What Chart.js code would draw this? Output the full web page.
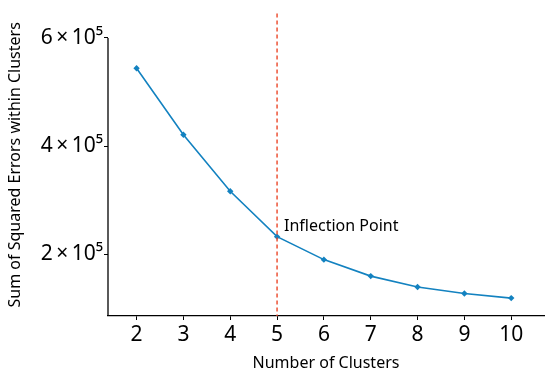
<!DOCTYPE html>
<html>
<head>
<meta charset="utf-8">
<script src="https://cdn.jsdelivr.net/npm/chart.js@4"></script>
<style>
  html, body { margin: 0; padding: 0; background: #fff; }
  #wrap { width: 550px; height: 378px; }
</style>
</head>
<body>
<div id="wrap"><canvas id="elbowChart"></canvas></div>
<script>
// data
const clusters = [2, 3, 4, 5, 6, 7, 8, 9, 10];
const sse = [543800, 420800, 316200, 232300, 189800, 159300, 139200, 127000, 118600];
const yTickValues = [200000, 400000, 600000];
const yTickLabels = ['2\u2009×\u200910⁵', '4\u2009×\u200910⁵', '6\u2009×\u200910⁵'];
const xTickValues = [2, 3, 4, 5, 6, 7, 8, 9, 10];
const inflectionK = 5;
const inflectionLabel = 'Inflection Point';

const FONT = "'Noto Sans', 'Open Sans', sans-serif";
const LINE_COLOR = '#1382c0';

// dashed marker, y axis line (only up to the top tick) and the label
const extras = {
    id: 'extras',
    afterDraw(chart) {
        const { ctx, chartArea, scales } = chart;
        const x = scales.x.getPixelForValue(inflectionK);
        ctx.save();
        ctx.strokeStyle = 'rgb(235, 70, 40)';
        ctx.lineWidth = 1.4;
        ctx.setLineDash([4, 3]);
        ctx.beginPath();
        ctx.moveTo(x, chartArea.top);
        ctx.lineTo(x, chartArea.bottom);
        ctx.stroke();
        ctx.restore();

        const yTop = scales.y.getPixelForValue(yTickValues[yTickValues.length - 1]);
        ctx.save();
        ctx.strokeStyle = '#000';
        ctx.lineWidth = 1.3;
        ctx.beginPath();
        ctx.moveTo(chartArea.left, yTop);
        ctx.lineTo(chartArea.left, chartArea.bottom);
        ctx.stroke();

        const i = clusters.indexOf(inflectionK);
        const py = scales.y.getPixelForValue(sse[i]);
        ctx.fillStyle = '#000';
        ctx.font = '16px ' + FONT;
        ctx.textAlign = 'left';
        ctx.textBaseline = 'middle';
        ctx.fillText(inflectionLabel, x + 7, py - 10);
        ctx.restore();
    }
};

const ctx = document.getElementById('elbowChart').getContext('2d');
new Chart(ctx, {
    type: 'line',
    data: {
        datasets: [{
            data: clusters.map((k, i) => ({ x: k, y: sse[i] })),
            borderColor: LINE_COLOR,
            backgroundColor: LINE_COLOR,
            borderWidth: 1.6,
            pointStyle: 'rectRot',
            pointRadius: 3.2,
            pointBorderWidth: 0,
            tension: 0,
            fill: false
        }]
    },
    options: {
        responsive: true,
        maintainAspectRatio: false,
        animation: false,
        layout: {
            padding: { left: 0, right: 6, top: 8, bottom: 0 }
        },
        plugins: {
            legend: { display: false },
            tooltip: { enabled: false }
        },
        scales: {
            x: {
                type: 'linear',
                min: 1.39,
                max: 10.7,
                afterBuildTicks: scale => {
                    scale.ticks = xTickValues.map(v => ({ value: v }));
                },
                afterFit: scale => { scale.height = 62; },
                ticks: {
                    color: '#000',
                    padding: 2,
                    maxRotation: 0,
                    font: { family: FONT, size: 21 }
                },
                grid: {
                    drawOnChartArea: false,
                    drawTicks: true,
                    tickLength: 4,
                    color: '#000'
                },
                border: { display: true, color: '#000', width: 1.3 },
                title: {
                    display: true,
                    text: 'Number of Clusters',
                    color: '#000',
                    font: { family: FONT, size: 16 },
                    padding: { top: 0, bottom: 5 }
                }
            },
            y: {
                type: 'linear',
                min: 85500,
                max: 645000,
                afterBuildTicks: scale => {
                    scale.ticks = yTickValues.map(v => ({ value: v }));
                },
                afterFit: scale => { scale.width = 108; },
                ticks: {
                    color: '#000',
                    padding: 1,
                    font: { family: FONT, size: 21 },
                    callback: value => yTickLabels[yTickValues.indexOf(value)]
                },
                grid: {
                    drawOnChartArea: false,
                    drawTicks: true,
                    tickLength: 4,
                    color: '#000'
                },
                border: { display: false },
                title: {
                    display: true,
                    text: 'Sum of Squared Errors within Clusters',
                    color: '#000',
                    font: { family: FONT, size: 16 },
                    padding: { top: 6, bottom: 0 }
                }
            }
        }
    },
    plugins: [extras]
});
</script>
</body>
</html>
